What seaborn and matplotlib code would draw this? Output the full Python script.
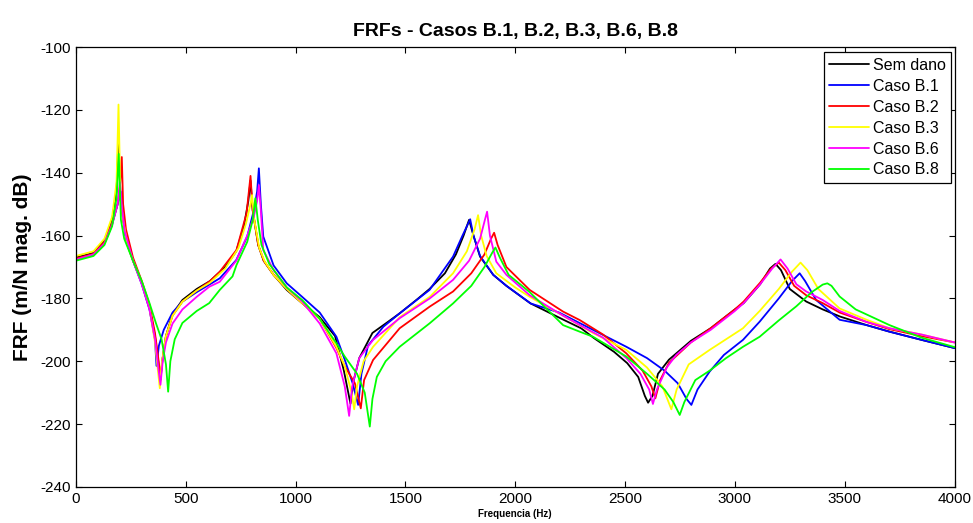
import numpy as np
import pandas as pd
import matplotlib
matplotlib.use("Agg")
import matplotlib.pyplot as plt
import seaborn as sns

# frequencias (Hz) e FRF (dB), uma lista por caso
f_sem = [0, 80, 130, 165, 185, 194, 203, 215, 235, 260, 300, 335, 360, 375, 385, 395, 410, 440, 485, 550,
         610, 680, 730, 765, 785, 795, 805, 830, 855, 900, 960, 1030, 1110, 1180, 1220, 1250, 1265, 1290, 1350,
         1420, 1475, 1550, 1610, 1680, 1730, 1765, 1790, 1810, 1840, 1900, 1960, 2070, 2220, 2300, 2360, 2450,
         2510, 2560, 2590, 2605, 2625, 2650, 2700, 2800, 2890, 3000, 3040, 3115, 3160, 3185, 3210, 3250, 3325,
         3400, 3480, 3600, 3700, 3850, 4000]
db_sem = [-167, -165.5, -161.5, -155, -146, -128.5, -148, -155, -163, -168, -175, -183, -192, -200, -206, -199,
          -192, -185, -180.5, -177, -174.5, -170, -165, -157, -149, -142.5, -152, -163, -168, -172.5, -177.3,
          -181.5, -186, -192, -203, -213.5, -206, -199, -191, -187.5, -184.7, -180.5, -177, -172, -166, -160,
          -155, -160, -166.7, -172.5, -176, -181.6, -186.8, -189.5, -192.7, -197, -200.6, -205, -211, -213.2,
          -211, -204, -199.5, -193.5, -189.5, -183.5, -181.5, -175.5, -170.5, -169, -171, -177, -181, -183.5,
          -185.8, -188.5, -190.5, -193.2, -195.8]

f_b1 = [0, 80, 130, 165, 190, 205, 212, 225, 260, 300, 335, 360, 367, 378, 400, 440, 485, 550, 610, 655,
        730, 780, 810, 825, 833, 842, 853, 900, 960, 1030, 1110, 1186, 1224, 1260, 1285, 1300, 1330, 1400,
        1475, 1610, 1717, 1760, 1795, 1810, 1840, 1900, 1960, 2070, 2200, 2354, 2506, 2600, 2680, 2740, 2780,
        2802, 2830, 2885, 2950, 3037, 3113, 3200, 3260, 3295, 3320, 3370, 3477, 3600, 3704, 3850, 4000]
db_b1 = [-167.5, -166, -162.5, -156.5, -150, -146, -152, -160, -168, -175.5, -183.5, -193, -201.5, -195, -190,
         -184.5, -181, -178, -175.5, -173.6, -167.8, -160.3, -152, -146, -138.6, -150, -160.3, -169.5, -175.2,
         -179.5, -184.5, -192.2, -199.5, -207, -213.9, -204, -195, -189, -184.7, -177.3, -166.7, -160, -154.8,
         -160, -166.5, -172.5, -176, -181.6, -184.5, -190, -195.4, -199, -203, -207, -212, -213.9, -209, -203.3,
         -198, -193.2, -187.4, -180, -174.5, -172, -174.5, -180.5, -186.8, -188.5, -190.6, -193.2, -195.8]

f_b2 = [0, 80, 130, 165, 190, 200, 209, 215, 228, 260, 300, 335, 360, 375, 385, 395, 410, 440, 485, 550,
        610, 655, 731, 777, 795, 805, 830, 855, 900, 960, 1030, 1110, 1186, 1224, 1270, 1297, 1312, 1353, 1474,
        1611, 1717, 1800, 1860, 1890, 1904, 1920, 1960, 2066, 2218, 2294, 2400, 2506, 2580, 2620, 2638, 2660,
        2700, 2800, 2890, 3000, 3040, 3115, 3165, 3200, 3230, 3270, 3325, 3400, 3477, 3600, 3704, 3850, 4000]
db_b2 = [-167.3, -165.8, -162, -156, -150, -145, -135, -150, -158, -167, -174.5, -182, -191, -199, -205, -199,
         -192, -185.5, -181, -177.5, -174.5, -171.5, -164.6, -152.9, -141, -152, -163, -168, -172.5, -177,
         -181.5, -186.5, -195.8, -201.6, -207, -215, -206, -199.6, -189.5, -182.6, -177.8, -172, -166, -161,
         -159.1, -163, -170, -177.3, -184.2, -186.9, -191.5, -197.5, -203, -208, -211.8, -206, -200.5, -194,
         -189.5, -183.5, -181, -175, -170.5, -168.6, -171, -176, -179, -181.5, -184.5, -187.5, -189.8, -192, -194]

f_b3 = [0, 80, 130, 165, 185, 194, 203, 215, 235, 260, 300, 335, 360, 375, 382, 390, 410, 440, 485, 550,
        610, 680, 740, 775, 795, 802, 812, 835, 860, 900, 960, 1030, 1110, 1186, 1224, 1255, 1267, 1280, 1310,
        1353, 1474, 1611, 1717, 1780, 1815, 1831, 1845, 1870, 1914, 2000, 2066, 2218, 2354, 2506, 2600, 2670,
        2711, 2735, 2790, 2885, 2960, 3037, 3113, 3200, 3260, 3299, 3330, 3380, 3477, 3600, 3704, 3850, 4000]
db_b3 = [-166.5, -165, -161, -154, -143, -118.3, -148, -155, -163, -168, -175, -183, -194, -204, -208.6, -201,
         -192, -185.5, -181, -177.5, -175, -170.5, -164, -156, -150, -147.1, -155, -164, -168.3, -172.5, -177,
         -181.5, -186.5, -195.4, -201.6, -210, -215.3, -208, -200, -195.4, -186, -179.5, -172, -165, -158,
         -153.5, -160, -166.5, -172, -176.5, -179.5, -185.5, -191, -196.4, -202, -208, -215.3, -209, -201,
         -196.4, -193, -189.5, -184, -177, -171.5, -168.6, -171, -177, -183.2, -186.8, -189.5, -191.5, -194]

f_b6 = [0, 80, 130, 165, 190, 200, 208, 222, 260, 300, 335, 360, 375, 385, 395, 410, 440, 485, 550, 607,
        655, 730, 780, 810, 825, 833, 842, 853, 900, 960, 1030, 1110, 1186, 1224, 1244, 1258, 1290, 1353, 1474,
        1611, 1717, 1790, 1840, 1862, 1872, 1885, 1914, 1960, 2066, 2218, 2294, 2400, 2506, 2570, 2610, 2627,
        2645, 2690, 2733, 2800, 2890, 3000, 3040, 3115, 3170, 3208, 3240, 3280, 3325, 3400, 3477, 3600, 3704,
        3850, 4000]
db_b6 = [-167.6, -166, -162.5, -156.5, -150, -143, -150, -158.5, -168, -175.5, -183.5, -193, -202, -207.5, -200,
         -194, -188, -183.5, -179.5, -176.3, -174.7, -168, -160, -154, -149, -143.9, -152, -164.6, -171, -176.5,
         -181, -188, -197.5, -208, -217.4, -208, -199, -193.2, -186.3, -180, -174.1, -168, -161, -155, -152.4,
         -160, -168.3, -172.5, -179, -185.5, -188.5, -192.5, -199, -204, -209, -213.6, -209, -202, -198, -194,
         -190, -184, -181.5, -175.5, -170.5, -167.6, -170.5, -175.5, -177.8, -180.5, -184, -187.5, -189.5,
         -191.5, -194]

f_b8 = [0, 80, 130, 165, 185, 195, 205, 220, 260, 300, 335, 365, 390, 410, 420, 430, 450, 485, 550, 607,
        655, 713, 731, 780, 805, 817, 828, 845, 880, 960, 1030, 1110, 1186, 1224, 1280, 1315, 1338, 1350, 1370,
        1410, 1474, 1611, 1717, 1800, 1860, 1895, 1910, 1930, 1970, 2066, 2218, 2294, 2354, 2506, 2600, 2680,
        2720, 2749, 2770, 2820, 2885, 2960, 3037, 3113, 3200, 3280, 3350, 3400, 3421, 3440, 3477, 3550, 3704,
        3850, 4000]
db_b8 = [-168, -166.5, -163, -157, -148, -134, -155, -161, -168, -174.5, -181.5, -188, -193, -201, -209.7, -200,
         -193, -187.8, -184, -181.5, -177.3, -173, -169.4, -162, -155, -148.1, -155, -163, -169, -176.5, -180.5,
         -186.5, -194.3, -198.5, -204, -210, -220.8, -212, -205, -200, -195.4, -187.9, -181.6, -176, -170,
         -165.5, -163.8, -167, -172.5, -178, -188.5, -190.6, -192.2, -198.5, -204, -209, -213, -217.1, -213,
         -206, -203, -199, -195.4, -192.2, -187, -182.5, -178, -175.6, -175.2, -176, -179.4, -183.5, -188.5,
         -192.5, -195.5]

casos = ["Sem dano", "Caso B.1", "Caso B.2", "Caso B.3", "Caso B.6", "Caso B.8"]
freqs = [f_sem, f_b1, f_b2, f_b3, f_b6, f_b8]
frfs = [db_sem, db_b1, db_b2, db_b3, db_b6, db_b8]
cores = ["#000000", "#0000ff", "#ff0000", "#ffff00", "#ff00ff", "#00ff00"]

# dataframe longo para o seaborn
df = pd.concat(
    [pd.DataFrame({"Frequencia": f, "FRF": d, "Caso": c}) for f, d, c in zip(freqs, frfs, casos)],
    ignore_index=True,
)

sns.set_style("ticks")
plt.rcParams["font.family"] = ["Liberation Sans", "DejaVu Sans"]
plt.rcParams["axes.unicode_minus"] = False
# tudo em preto, como no matlab
for k in ["text.color", "axes.labelcolor", "xtick.color", "ytick.color", "axes.edgecolor"]:
    plt.rcParams[k] = "black"

fig = plt.figure(figsize=(9.73, 5.23), dpi=100)
ax = fig.add_axes([0.078, 0.069, 0.903, 0.841])

sns.lineplot(
    data=df, x="Frequencia", y="FRF", hue="Caso", hue_order=casos,
    palette=dict(zip(casos, cores)), estimator=None, sort=False,
    linewidth=1.3, ax=ax,
)

ax.set_xlim(0, 4000)
ax.set_ylim(-240, -100)
ax.set_xticks(np.arange(0, 4001, 500))
ax.set_yticks(np.arange(-240, -99, 20))
ax.tick_params(direction="in", top=True, right=True, labelsize=11, length=4, width=0.8)

ax.set_title("FRFs - Casos B.1, B.2, B.3, B.6, B.8", fontsize=14, fontweight="bold", pad=8)
ax.set_xlabel("Frequencia (Hz)", fontsize=7, fontweight="bold", labelpad=2)
ax.set_ylabel("FRF (m/N mag. dB)", fontsize=15, fontweight="bold", labelpad=6)

for spine in ax.spines.values():
    spine.set_visible(True)
    spine.set_linewidth(0.9)
    spine.set_edgecolor("black")

leg = ax.legend(
    loc="upper right", bbox_to_anchor=(0.996, 0.988), fontsize=11.5, frameon=True,
    fancybox=False, edgecolor="black", framealpha=1, borderpad=0.35,
    labelspacing=0.37, handlelength=2.5, handletextpad=0.2, borderaxespad=0,
)
leg.get_frame().set_linewidth(0.9)

fig.savefig("out.png", dpi=100)
